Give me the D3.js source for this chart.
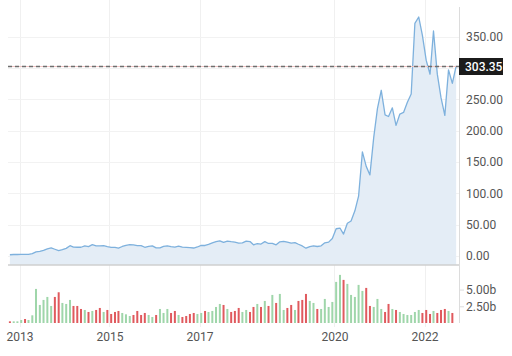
<!DOCTYPE html>
<html><head><meta charset="utf-8">
<script src="https://cdn.jsdelivr.net/npm/d3@7"></script>
<style>body{margin:0;background:#fff}svg{display:block}text{font-family:Roboto,"Liberation Sans",Arial,sans-serif}</style>
</head><body><svg id="c" width="512" height="356"></svg>
<script>
const months = [
"2012-10","2012-11","2012-12",
"2013-01","2013-02","2013-03","2013-04","2013-05","2013-06","2013-07","2013-08","2013-09","2013-10","2013-11","2013-12",
"2014-01","2014-02","2014-03","2014-04","2014-05","2014-06","2014-07","2014-08","2014-09","2014-10","2014-11","2014-12",
"2015-01","2015-02","2015-03","2015-04","2015-05","2015-06","2015-07","2015-08","2015-09","2015-10","2015-11","2015-12",
"2016-01","2016-02","2016-03","2016-04","2016-05","2016-06","2016-07","2016-08","2016-09","2016-10","2016-11","2016-12",
"2017-01","2017-02","2017-03","2017-04","2017-05","2017-06","2017-07","2017-08","2017-09","2017-10","2017-11","2017-12",
"2018-01","2018-02","2018-03","2018-04","2018-05","2018-06","2018-07","2018-08","2018-09","2018-10","2018-11","2018-12",
"2019-01","2019-02","2019-03","2019-04","2019-05","2019-06","2019-07","2019-08","2019-09","2019-10","2019-11","2019-12",
"2020-01","2020-02","2020-03","2020-04","2020-05","2020-06","2020-07","2020-08","2020-09","2020-10","2020-11","2020-12",
"2021-01","2021-02","2021-03","2021-04","2021-05","2021-06","2021-07","2021-08","2021-09","2021-10","2021-11","2021-12",
"2022-01","2022-02","2022-03","2022-04","2022-05","2022-06","2022-07","2022-08","2022-09"];

const closePrices = [
1.88,2.25,2.26,
2.50,2.32,2.53,3.60,6.52,7.16,8.93,11.29,12.86,10.66,8.49,10.03,
12.07,16.32,13.90,13.86,13.85,16.00,14.89,17.98,16.18,16.11,16.30,14.83,
13.57,13.55,12.59,15.07,16.72,17.89,17.75,16.60,16.56,13.79,15.35,16.00,
12.75,12.79,15.32,16.05,14.88,14.15,15.65,14.13,13.60,13.18,12.63,14.25,
16.79,16.67,18.55,20.93,22.73,24.11,21.56,23.73,22.74,22.10,20.59,20.76,
23.62,22.87,17.74,19.59,18.98,22.86,19.88,20.11,17.65,22.49,23.37,22.19,
20.47,21.33,18.66,15.91,12.34,14.90,16.11,15.04,16.06,20.99,21.99,27.89,
43.37,44.53,34.93,52.13,55.67,71.99,95.38,166.11,143.00,129.35,189.20,235.22,
264.51,225.17,222.64,236.48,208.41,226.57,229.07,245.24,258.49,371.33,381.59,352.26,
312.24,290.14,359.20,290.25,252.75,224.47,297.15,275.61,303.35];

// monthly volume in billions (through Aug 2022)
const volumes = [
0.25,0.25,0.25,
0.45,0.6,0.45,1.15,5.1,2.7,3.45,3.9,2.55,3.9,4.6,3.0,
2.85,3.45,2.55,2.55,2.1,1.95,1.65,1.8,1.95,2.25,1.65,1.95,
1.35,1.65,1.8,1.5,1.3,1.05,1.2,1.8,1.2,1.5,1.2,0.9,
1.2,2.1,1.5,2.1,1.5,1.8,1.2,0.9,1.05,1.35,1.5,1.35,
1.5,1.8,1.65,1.8,2.4,2.85,2.7,2.1,1.65,1.8,2.25,1.65,
1.95,1.65,2.4,2.85,2.4,3.3,2.55,4.2,3.0,4.35,1.95,2.25,
2.7,1.95,3.3,3.45,4.35,3.3,3.0,2.1,2.1,3.6,2.4,3.15,
6.15,7.2,6.45,5.85,4.2,3.9,5.7,4.8,5.25,2.55,2.4,3.6,
2.1,1.65,2.85,2.1,1.95,1.65,1.35,1.2,1.2,1.65,1.95,1.5,
1.95,1.35,1.8,1.5,1.95,2.1,1.8,1.5];

// u = month closed up, d = month closed down
const volumeDir = [
"d","u","u",
"u","d","u","u","u","u","u","u","u","d","d","u",
"u","u","d","d","d","u","d","u","d","d","u","d",
"d","d","d","u","u","u","d","d","d","d","u","u",
"d","u","u","u","d","d","u","d","d","d","d","u",
"u","d","u","u","u","u","d","u","d","d","d","u",
"u","d","d","u","d","u","d","u","d","u","u","d",
"d","u","d","d","d","u","u","d","u","u","u","u",
"u","u","d","u","u","u","u","u","d","d","u","u",
"u","d","d","u","d","u","u","u","u","u","u","d",
"d","d","u","d","d","d","u","d"];

const priceTicks = [0,50,100,150,200,250,300,350];
const priceLabelTicks = [0,50,100,150,200,250,350]; // 300.00 is covered by the last-price tag
const volumeTicks = [2.5,5];
const yearTicks = ["2013","2015","2017","2020","2022"];
const lastPrice = 303.35;

const svg = d3.select("#c");
const parseM = d3.utcParse("%Y-%m");
const mid = s => { const d = parseM(s); return new Date(Date.UTC(d.getUTCFullYear(), d.getUTCMonth(), 15)); };

const x = d3.scaleUtc().domain([new Date(Date.UTC(2013,0,1)), new Date(Date.UTC(2022,0,1))]).range([19.5, 19.5+9*45]);
const y = d3.scaleLinear().domain([-14.5, 397.5]).range([265, 7]);
const yv = d3.scaleLinear().domain([0, 8.08]).range([323, 269]);
const left = 8, right = 459;

const data = months.map((m,i)=>({d:mid(m), p:closePrices[i]}));
const vdata = volumes.map((v,i)=>({d:mid(months[i]), v, dir:volumeDir[i]}));

// vertical grid
svg.append("g").selectAll("line").data(yearTicks).join("line")
  .attr("x1", t=>Math.round(x(parseM(t+"-01")))+0.5).attr("x2", t=>Math.round(x(parseM(t+"-01")))+0.5)
  .attr("y1",0).attr("y2",327).attr("stroke","#f0f0f0").attr("stroke-width",1);
// horizontal grid
svg.append("g").selectAll("line").data(priceTicks).join("line")
  .attr("x1",left).attr("x2",right).attr("y1",t=>Math.round(y(t))+0.5).attr("y2",t=>Math.round(y(t))+0.5)
  .attr("stroke","#f2f2f2");

// area + line
svg.append("path").datum(data)
  .attr("d", d3.area().x(d=>x(d.d)).y0(265).y1(d=>y(d.p)))
  .attr("fill","#e4edf6");
svg.append("path").datum(data)
  .attr("d", d3.line().x(d=>x(d.d)).y(d=>y(d.p)))
  .attr("fill","none").attr("stroke","#7eb1dd").attr("stroke-width",1.3).attr("stroke-linejoin","round");

// price panel bottom line
svg.append("line").attr("x1",left).attr("x2",right).attr("y1",265).attr("y2",265).attr("stroke","#cfcfcf").attr("stroke-width",1.5);

// volume bars
svg.append("g").selectAll("rect").data(vdata).join("rect")
  .attr("x", d=>x(d.d)-1).attr("width",2)
  .attr("y", d=>yv(d.v)).attr("height", d=>yv(0)-yv(d.v))
  .attr("fill", d=>d.dir==="u" ? "#9fd6aa" : "#e05a5e");

// right axis line
svg.append("line").attr("x1",right+0.5).attr("x2",right+0.5).attr("y1",7).attr("y2",323).attr("stroke","#dcdcdc");

// price axis
const ay = svg.append("g").attr("transform",`translate(${right},0)`)
  .call(d3.axisRight(y).tickValues(priceLabelTicks).tickFormat(d3.format(".2f")).tickSize(0).tickPadding(7));
ay.select(".domain").remove();
ay.selectAll("text").attr("fill","#555").attr("font-size",12).attr("font-family","Roboto,Arial,sans-serif");

// volume axis
const av = svg.append("g").attr("transform",`translate(${right},0)`)
  .call(d3.axisRight(yv).tickValues(volumeTicks).tickFormat(d=>d3.format(".2f")(d)+"b").tickSize(5).tickPadding(2));
av.select(".domain").remove();
av.selectAll("line").attr("stroke","#dcdcdc");
av.selectAll("text").attr("fill","#555").attr("font-size",12).attr("font-family","Roboto,Arial,sans-serif");

// x axis
const ax = svg.append("g").attr("transform","translate(0,323)")
  .call(d3.axisBottom(x).tickValues(yearTicks.map(t=>parseM(t+"-01"))).tickFormat(d3.utcFormat("%Y")).tickSize(0).tickPadding(9));
ax.select(".domain").remove();
ax.selectAll("text").attr("fill","#555").attr("font-size",12).attr("font-family","Roboto,Arial,sans-serif");

// last price line
const ly = Math.round(y(lastPrice))+0.5;
svg.append("line").attr("x1",left).attr("x2",right).attr("y1",ly).attr("y2",ly).attr("stroke","#f0c4c4").attr("stroke-width",1);
svg.append("line").attr("x1",left).attr("x2",right).attr("y1",ly).attr("y2",ly).attr("stroke","#6e6e6e").attr("stroke-width",1.3).attr("stroke-dasharray","4,3");
const lb = svg.append("g").attr("transform",`translate(${right},${ly})`);
lb.append("rect").attr("x",0).attr("y",-8.5).attr("width",44).attr("height",17).attr("fill","#1b1b1b");
lb.append("text").attr("x",6).attr("y",0).attr("dy","0.35em").attr("fill","#fff").attr("font-size",12).attr("font-weight",500).text(d3.format(".2f")(lastPrice));
</script></body></html>
